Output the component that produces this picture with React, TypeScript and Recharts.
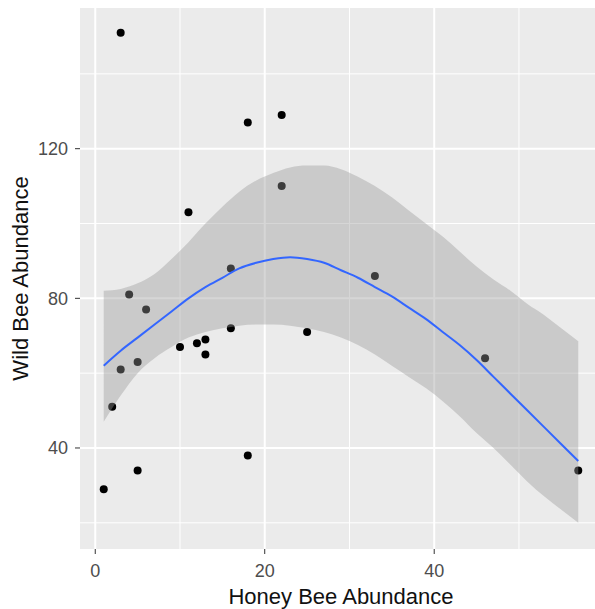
import {
  Area,
  CartesianGrid,
  ComposedChart,
  Label,
  Line,
  Scatter,
  XAxis,
  YAxis,
} from 'recharts'

// observed points
const honeyBee = [3, 18, 22, 11, 22, 4, 6, 16, 16, 10, 12, 13, 13, 3, 5, 2, 5, 1, 18, 25, 33, 46, 57]
const wildBee = [151, 127, 129, 103, 110, 81, 77, 88, 72, 67, 68, 69, 65, 61, 63, 51, 34, 29, 38, 71, 86, 64, 34]

// loess fit with its confidence band
const smoothX = [1, 3, 5, 7, 9, 11, 13, 15, 17, 19, 21, 23, 25, 27, 29, 31, 33, 35, 37, 39, 41, 43, 45, 47, 49, 51, 53, 55, 57]
const smoothFit = [62, 66, 69.5, 73, 76.5, 80, 83, 85.5, 88, 89.5, 90.5, 91, 90.5, 89.5, 87.5, 85.5, 83, 80.5, 77.5, 74.5, 71, 67.5, 63.5, 59, 54.5, 50, 45.5, 41, 36.5]
const smoothHigh = [82, 82.5, 84, 86.5, 90.5, 95, 100, 104.5, 108.5, 111.5, 113.5, 115, 115.5, 115.5, 114.5, 112.5, 110, 107, 103.5, 100, 96.5, 92.5, 88.5, 85, 82, 78.5, 75.5, 72, 68.5]
const smoothLow = [47, 54, 60, 64, 67, 69.5, 71, 72, 72.7, 73, 73, 72.7, 72, 71, 69.5, 67.5, 65, 62, 59, 56, 52.5, 48.5, 44, 40, 35.5, 31, 27, 23.5, 20]

const xTicks = [0, 20, 40]
const xMinor = [10, 30, 50]
const yTicks = [40, 80, 120]
const yMinor = [20, 60, 100, 140]

const points = honeyBee.map((x, i) => ({ x, y: wildBee[i] }))
const smooth = smoothX.map((x, i) => ({
  x,
  fit: smoothFit[i],
  band: [smoothLow[i], smoothHigh[i]],
}))

const FONT = '"Liberation Sans", Arial, sans-serif'
const tickStyle = { fontSize: 18, fill: '#4d4d4d', fontFamily: FONT }

function XTitle({ viewBox }: any) {
  const cx = viewBox.x + viewBox.width / 2
  return (
    <text x={cx} y={604} textAnchor="middle" fontSize={22} fontFamily={FONT} fill="#111">
      Honey Bee Abundance
    </text>
  )
}

function YTitle({ viewBox }: any) {
  const cx = 28
  const cy = viewBox.y + viewBox.height / 2
  return (
    <text
      x={cx}
      y={cy}
      transform={`rotate(-90, ${cx}, ${cy})`}
      textAnchor="middle"
      fontSize={22}
      fontFamily={FONT}
      fill="#111"
    >
      Wild Bee Abundance
    </text>
  )
}

export default function App() {
  return (
    <div style={{ position: 'absolute', left: 0, top: 0, width: 595, height: 609, overflow: 'hidden', background: '#fff' }}>
      <ComposedChart width={610} height={609} data={smooth} margin={{ top: 8, right: 8, bottom: 0, left: 0 }}>
        <CartesianGrid
          fill="#ebebeb"
          stroke="#ffffff"
          strokeWidth={1}
          horizontalValues={yMinor}
          verticalValues={xMinor}
        />
        <CartesianGrid stroke="#ffffff" strokeWidth={2} horizontalValues={yTicks} verticalValues={xTicks} />
        <XAxis
          type="number"
          dataKey="x"
          domain={[-1.8, 59.8]}
          ticks={xTicks}
          allowDataOverflow
          axisLine={false}
          tickLine={{ stroke: '#333' }}
          tickSize={5}
          tickMargin={10}
          tick={tickStyle}
          height={60}
        >
          <Label content={<XTitle />} />
        </XAxis>
        <YAxis
          type="number"
          dataKey="y"
          domain={[13, 157.6]}
          ticks={yTicks}
          allowDataOverflow
          axisLine={false}
          tickLine={{ stroke: '#333' }}
          tickSize={5}
          tickMargin={7}
          tick={tickStyle}
          width={80}
        >
          <Label content={<YTitle />} />
        </YAxis>
        {/* points go under the ribbon, as in ggplot */}
        <Scatter
          data={points}
          isAnimationActive={false}
          zIndex={50}
          shape={(p: any) => <circle cx={p.cx} cy={p.cy} r={4} fill="#000" />}
        />
        <Area
          dataKey="band"
          type="monotone"
          fill="#999999"
          fillOpacity={0.4}
          stroke="none"
          zIndex={2000}
          isAnimationActive={false}
        />
        <Line
          dataKey="fit"
          type="monotone"
          stroke="#3366ff"
          strokeWidth={2}
          dot={false}
          zIndex={2100}
          isAnimationActive={false}
        />
      </ComposedChart>
    </div>
  )
}
